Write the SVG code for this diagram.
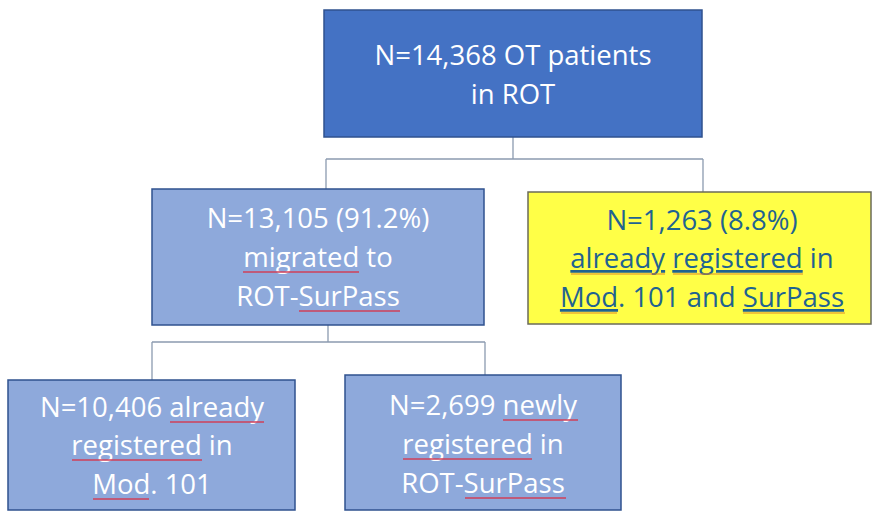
<svg xmlns="http://www.w3.org/2000/svg" width="873" height="512" viewBox="0 0 873 512">
<style>
.box{stroke:#2F528F;stroke-width:1.5}
.dark{fill:#4472C4}
.light{fill:#8EA9DB}
.yel{fill:#FFFF47;stroke:#6B6B5A;stroke-width:1.5}
.t{font-family:"Open Sans","Liberation Sans",sans-serif;font-size:27.5px;text-anchor:middle;fill:#FFFFFF}
.ty{fill:#1F6391}
.uo{text-decoration:underline}
.conn{fill:none;stroke:#8C9BB0;stroke-width:1.3}
.sq{stroke:#D0405A;stroke-width:1.3;fill:none}
.sqo{stroke:#E08A2A;stroke-width:1.2;fill:none}
</style>
<rect width="873" height="512" fill="#FFFFFF"/>
<g id="connectors">
<path class="conn" d="M513 137V159M326 159H703M326 159V189M703 159V192"/>
<path class="conn" d="M328 325V342M152 342H485M152 342V380M485 342V375"/>
</g>
<g id="top">
<rect class="box dark" x="324" y="10" width="378" height="127"/>
<text class="t" x="513" y="65">N=14,368 OT patients</text>
<text class="t" x="513" y="104">in ROT</text>
</g>
<g id="migrated">
<rect class="box light" x="152" y="189" width="332" height="136"/>
<text class="t" x="318" y="228">N=13,105 (91.2%)</text>
<text class="t" x="318" y="267">migrated to</text>
<text class="t" x="318" y="306">ROT-SurPass</text>
<path class="sq" d="M243 272H359M299 311H400"/>
</g>
<g id="already-both">
<rect class="yel" x="528" y="192" width="343" height="132"/>
<text class="t ty" x="702" y="230">N=1,263 (8.8%)</text>
<text class="t ty" x="702" y="268"><tspan class="uo">already</tspan> <tspan class="uo">registered</tspan> in</text>
<text class="t ty" x="702" y="307"><tspan class="uo">Mod</tspan>. 101 and <tspan class="uo">SurPass</tspan></text>
<path class="sqo" d="M571 274H665M673 274H803M561 313H617M743 313H845"/>
</g>
<g id="already-mod">
<rect class="box light" x="8" y="380" width="287" height="130"/>
<text class="t" x="152" y="417">N=10,406 already</text>
<text class="t" x="152" y="455">registered in</text>
<text class="t" x="152" y="494">Mod. 101</text>
<path class="sq" d="M170 422H264M72 460H202M93 499H149"/>
</g>
<g id="newly">
<rect class="box light" x="345" y="375" width="276" height="135"/>
<text class="t" x="483" y="415">N=2,699 newly</text>
<text class="t" x="483" y="454">registered in</text>
<text class="t" x="483" y="493">ROT-SurPass</text>
<path class="sq" d="M503 420H578M403 459H532M465 498H566"/>
</g>
</svg>
